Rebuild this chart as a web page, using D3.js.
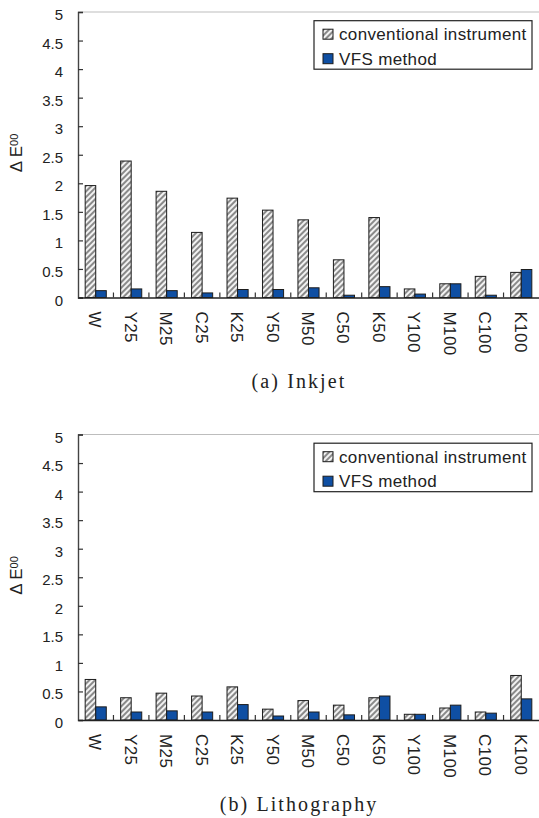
<!DOCTYPE html>
<html>
<head>
<meta charset="utf-8">
<script src="https://cdn.jsdelivr.net/npm/d3@7/dist/d3.min.js"></script>
<style>
  html, body { margin: 0; padding: 0; background: #fff; }
  svg { display: block; }
</style>
</head>
<body>
<svg id="chart" width="539" height="818"></svg>
<script>
// Color difference per patch, two printing processes
const categories = ["W", "Y25", "M25", "C25", "K25", "Y50", "M50", "C50", "K50", "Y100", "M100", "C100", "K100"];
const seriesNames = ["conventional instrument", "VFS method"];

const inkjetConventional = [1.96, 2.39, 1.86, 1.14, 1.74, 1.53, 1.36, 0.66, 1.40, 0.15, 0.24, 0.37, 0.44];
const inkjetVFS          = [0.12, 0.15, 0.12, 0.08, 0.14, 0.14, 0.17, 0.04, 0.19, 0.06, 0.24, 0.04, 0.49];

const lithoConventional  = [0.71, 0.39, 0.47, 0.42, 0.58, 0.19, 0.34, 0.26, 0.39, 0.10, 0.21, 0.14, 0.78];
const lithoVFS           = [0.23, 0.14, 0.16, 0.14, 0.27, 0.07, 0.14, 0.09, 0.42, 0.10, 0.26, 0.12, 0.37];

const yTicks = [0, 0.5, 1, 1.5, 2, 2.5, 3, 3.5, 4, 4.5, 5];
const panelCaptions = ["(a) Inkjet", "(b) Lithography"];

const SANS = "'Liberation Sans', Arial, sans-serif";
const SERIF = "'Liberation Serif', 'Times New Roman', serif";

const svg = d3.select("#chart");
const plotLeft = 78, plotRight = 539;
const plotHeight = 285.5;
const panelTops = [12, 434.5];

const vfsColor = "#0f4fa3";
const barStroke = "#1c1c1c";

// diagonal hatch used for the conventional-instrument bars
const defs = svg.append("defs");
const pat = defs.append("pattern")
  .attr("id", "hatch")
  .attr("patternUnits", "userSpaceOnUse")
  .attr("width", 4).attr("height", 4)
  .attr("patternTransform", "rotate(45)");
pat.append("rect").attr("width", 4).attr("height", 4).attr("fill", "#f2f2f2");
pat.append("line").attr("x1", 1).attr("y1", 0).attr("x2", 1).attr("y2", 4)
  .attr("stroke", "#8a8a8a").attr("stroke-width", 2);

const x = d3.scaleBand().domain(categories).range([plotLeft, plotRight]).paddingInner(0).paddingOuter(0);
const xSeries = d3.scaleBand().domain(seriesNames).range([0, x.bandwidth()]).paddingInner(0).paddingOuter(0.68);

function drawPanel(top, conv, vfs, caption) {
  const g = svg.append("g");
  const y = d3.scaleLinear().domain([0, 5]).range([top + plotHeight, top]);

  // top frame line
  g.append("line")
    .attr("x1", plotLeft).attr("x2", plotRight)
    .attr("y1", y(5)).attr("y2", y(5))
    .attr("stroke", "#bdbdbd").attr("stroke-width", 1.2);

  // bars
  const rows = categories.map((c, i) => ({ c, vals: [conv[i], vfs[i]] }));
  const groups = g.selectAll("g.cat").data(rows).join("g")
    .attr("class", "cat")
    .attr("transform", d => `translate(${x(d.c)},0)`);
  groups.selectAll("rect").data(d => d.vals.map((v, k) => ({ s: seriesNames[k], v, k })))
    .join("rect")
    .attr("x", d => xSeries(d.s))
    .attr("width", xSeries.bandwidth())
    .attr("y", d => y(d.v))
    .attr("height", d => y(0) - y(d.v))
    .attr("fill", d => d.k === 0 ? "url(#hatch)" : vfsColor)
    .attr("stroke", barStroke)
    .attr("stroke-width", 1);

  // y axis
  const yAxis = d3.axisLeft(y).tickValues(yTicks).tickSize(-5).tickPadding(15)
    .tickFormat(d => String(d));
  const ya = g.append("g").attr("transform", `translate(${plotLeft},0)`).call(yAxis);
  ya.select(".domain").attr("stroke", "#444").attr("stroke-width", 1.4);
  ya.selectAll(".tick line").attr("stroke", "#333").attr("stroke-width", 1.2);
  ya.selectAll(".tick text").attr("font-size", 15).attr("fill", "#222")
    .attr("font-family", SANS)
    .attr("dy", "0.5em");

  // x axis: category labels, rotated
  const xAxis = d3.axisBottom(x).tickSize(0).tickPadding(0);
  const xa = g.append("g").attr("transform", `translate(0,${y(0)})`).call(xAxis);
  xa.select(".domain").attr("stroke", "#222").attr("stroke-width", 1.6);
  xa.selectAll(".tick text")
    .attr("font-size", 17).attr("fill", "#222")
    .attr("font-family", SANS)
    .attr("letter-spacing", 0.4)
    .attr("text-anchor", "start")
    .attr("transform", "translate(-6.5,14) rotate(90)")
    .attr("x", 0).attr("y", 0).attr("dy", 0);

  // separators between categories, pointing up from the baseline
  g.selectAll("line.sep").data(categories.slice(1)).join("line")
    .attr("class", "sep")
    .attr("x1", d => x(d)).attr("x2", d => x(d))
    .attr("y1", y(0)).attr("y2", y(0) - 5)
    .attr("stroke", "#333").attr("stroke-width", 1.2);

  // axis title
  const title = g.append("text")
    .attr("transform", `translate(22,${top + 141}) rotate(-90)`)
    .attr("text-anchor", "middle")
    .attr("font-family", SANS)
    .attr("font-size", 17)
    .attr("fill", "#222");
  title.append("tspan").text("\u0394 E");
  title.append("tspan").attr("font-size", 11).attr("dy", -4).text("00");

  // legend
  const lg = g.append("g").attr("transform", `translate(314,${top + 8.7})`);
  lg.append("rect").attr("width", 218).attr("height", 48.5)
    .attr("fill", "#fff").attr("stroke", "#222").attr("stroke-width", 1.2);
  seriesNames.forEach((name, k) => {
    const cy = 13.5 + k * 24.5;
    lg.append("rect").attr("x", 9).attr("y", cy - 5).attr("width", 10).attr("height", 10)
      .attr("fill", k === 0 ? "url(#hatch)" : vfsColor)
      .attr("stroke", barStroke).attr("stroke-width", 1);
    lg.append("text").attr("x", 25).attr("y", cy + 6)
      .attr("font-family", SANS)
      .attr("font-size", 17)
      .attr("letter-spacing", 0.35)
      .attr("fill", "#222").text(name);
  });

  // caption
  svg.append("text")
    .attr("x", 299).attr("y", top + plotHeight + 90.5)
    .attr("text-anchor", "middle")
    .attr("font-family", SERIF)
    .attr("font-size", 20)
    .attr("letter-spacing", 2.1)
    .attr("fill", "#222")
    .text(caption);
}

drawPanel(panelTops[0], inkjetConventional, inkjetVFS, panelCaptions[0]);
drawPanel(panelTops[1], lithoConventional, lithoVFS, panelCaptions[1]);
</script>
</body>
</html>
